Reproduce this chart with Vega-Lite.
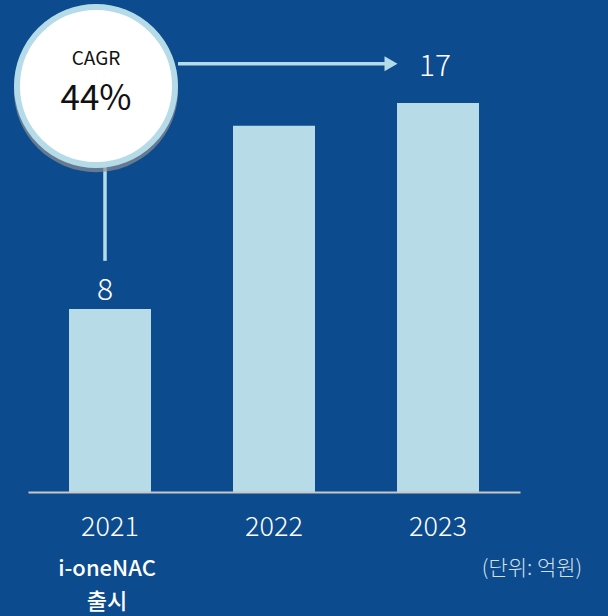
{
  "$schema": "https://vega.github.io/schema/vega-lite/v6.json",
  "width": 492,
  "height": 492,
  "autosize": "none",
  "padding": {"left": 28, "top": 0, "right": 88, "bottom": 124},
  "background": "#0c4b8d",
  "config": {"view": {"stroke": null}, "font": "Noto Sans CJK KR"},
  "encoding": {
    "x": {
      "field": "year", "type": "nominal", "title": null,
      "scale": {"domain": ["2021", "2022", "2023"], "paddingInner": 0.5, "paddingOuter": 0.25},
      "axis": {"domainColor": "#c8c8c8", "domainWidth": 2, "ticks": false, "labelAngle": 0, "labelColor": "#ffffff", "labelFontSize": 27, "labelFontWeight": 300, "labelPadding": 22, "labelFont": "Noto Sans CJK KR", "grid": false, "zindex": 1}
    },
    "y": {"field": "value", "type": "quantitative", "scale": {"domain": [0, 21.5], "nice": false, "zero": true}, "axis": null}
  },
  "layer": [
    {
      "data": {"values": [{"year": "2021", "value": 8}, {"year": "2022", "value": 16}, {"year": "2023", "value": 17}]},
      "mark": {"type": "bar", "color": "#b7dbe7"}
    },
    {
      "data": {"values": [{"year": "2021", "value": 8, "label": "8"}]},
      "mark": {"type": "text", "color": "#ffffff", "fontSize": 30, "fontWeight": 300, "baseline": "alphabetic", "dy": -9, "xOffset": -5},
      "encoding": {"text": {"field": "label"}}
    },
    {
      "data": {"values": [{"year": "2023", "value": 17, "label": "17"}]},
      "mark": {"type": "text", "color": "#ffffff", "fontSize": 30, "fontWeight": 300, "baseline": "alphabetic", "dy": -27, "xOffset": -3},
      "encoding": {"text": {"field": "label"}}
    },
    {
      "data": {"values": [{"year": "2021", "value": 14.3, "value2": 10.1}]},
      "mark": {"type": "rule", "color": "#b5dbe8", "strokeWidth": 3.5, "xOffset": -5},
      "encoding": {"y2": {"field": "value2"}}
    },
    {
      "data": {"values": [{"year": "2021", "year2": "2023", "value": 18.71}]},
      "mark": {"type": "rule", "color": "#b5dbe8", "strokeWidth": 3.5, "xOffset": 68, "x2Offset": -52},
      "encoding": {"x2": {"field": "year2"}}
    },
    {
      "data": {"values": [{"year": "2023", "value": 18.71}]},
      "mark": {"type": "point", "shape": "triangle-right", "filled": true, "color": "#b5dbe8", "opacity": 1, "size": 225, "xOffset": -47}
    },
    {
      "data": {"values": [{"year": "2021", "value": 17.74}]},
      "mark": {"type": "point", "shape": "circle", "filled": true, "color": "#8a8f96", "opacity": 0.7, "size": 27000, "xOffset": -14, "yOffset": 4}
    },
    {
      "data": {"values": [{"year": "2021", "value": 17.74}]},
      "mark": {"type": "point", "shape": "circle", "filled": false, "fill": "#ffffff", "fillOpacity": 1, "stroke": "#b5dbe8", "strokeWidth": 6, "opacity": 1, "size": 24964, "xOffset": -14}
    },
    {
      "data": {"values": [{"year": "2021", "value": 18.68, "label": "CAGR"}]},
      "mark": {"type": "text", "color": "#111111", "fontSize": 19, "baseline": "alphabetic", "xOffset": -14},
      "encoding": {"text": {"field": "label"}}
    },
    {
      "data": {"values": [{"year": "2021", "value": 16.68, "label": "44%"}]},
      "mark": {"type": "text", "color": "#111111", "fontSize": 35, "baseline": "alphabetic", "xOffset": -14},
      "encoding": {"text": {"field": "label"}}
    },
    {
      "data": {"values": [{"year": "2021", "value": -3.67, "label": "i-oneNAC"}, {"year": "2021", "value": -5.11, "label": "출시"}]},
      "mark": {"type": "text", "color": "#ffffff", "fontSize": 22, "fontWeight": 500, "baseline": "alphabetic", "xOffset": -3},
      "encoding": {"text": {"field": "label"}}
    },
    {
      "data": {"values": [{"year": "2023", "value": -3.63, "label": "(단위: 억원)"}]},
      "mark": {"type": "text", "color": "#d6e0ec", "fontSize": 21, "fontWeight": 300, "baseline": "alphabetic", "xOffset": 94},
      "encoding": {"text": {"field": "label"}}
    }
  ]
}
